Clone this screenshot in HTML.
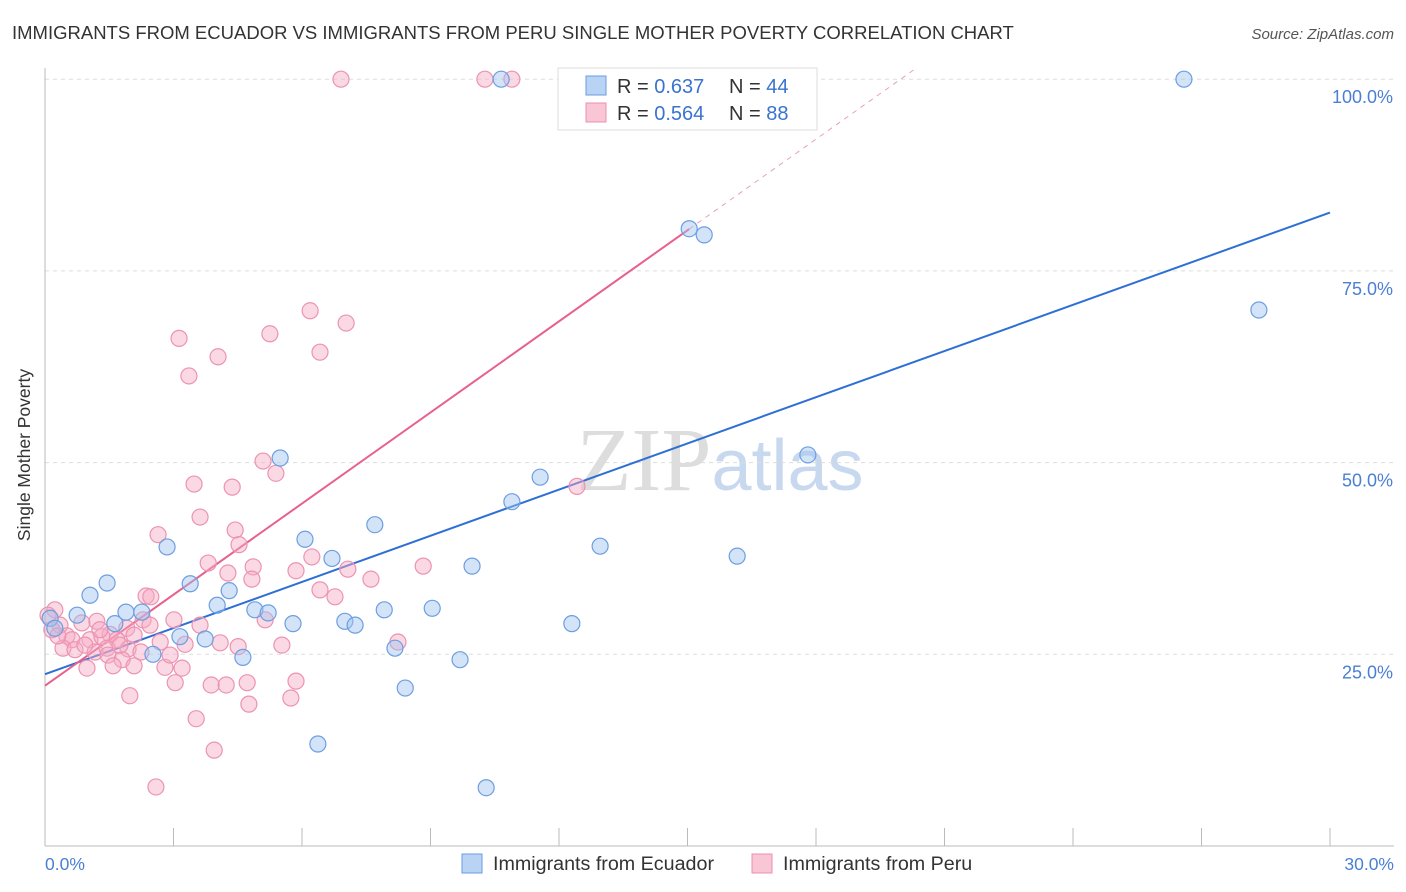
<!DOCTYPE html>
<html><head><meta charset="utf-8">
<style>
body{margin:0;background:#fff;font-family:"Liberation Sans",sans-serif;}
#wrap{position:relative;width:1406px;height:892px;overflow:hidden;}
</style></head>
<body>
<div id="wrap">
<svg id="svg" width="1406" height="892" xmlns="http://www.w3.org/2000/svg">
<text x="12" y="39" font-size="18.5" fill="#333">IMMIGRANTS FROM ECUADOR VS IMMIGRANTS FROM PERU SINGLE MOTHER POVERTY CORRELATION CHART</text>
<text x="1394" y="39" font-size="15" fill="#555" font-style="italic" text-anchor="end">Source: ZipAtlas.com</text>
<text x="720" y="490" font-size="90" fill="#ddd" text-anchor="middle" font-family="Liberation Serif,serif">ZIP<tspan fill="#c8d8ee" font-family="Liberation Sans,sans-serif" font-size="72">atlas</tspan></text>
<g id="grid"></g>
<line x1="45" y1="68" x2="45" y2="846" stroke="#bbb"/>
<line x1="45" y1="846" x2="1394" y2="846" stroke="#bbb"/>
<text x="30" y="455" font-size="17.5" fill="#333" text-anchor="middle" transform="rotate(-90 30 455)">Single Mother Poverty</text>
<text x="45" y="870" font-size="17.5" fill="#4a7fd4">0.0%</text>
<text x="1394" y="870" font-size="17.5" fill="#4a7fd4" text-anchor="end">30.0%</text>
<g id="lines"></g>
<g id="pts"></g>
<g>
<rect x="558" y="68" width="259" height="62" fill="#fff" stroke="#ddd"/>
<rect x="586" y="76" width="20" height="19" fill="#b9d3f5" stroke="#6a9be0"/>
<rect x="586" y="103" width="20" height="19" fill="#f9c6d6" stroke="#ec8fae"/>
<text x="617" y="93" font-size="20" fill="#333">R = <tspan fill="#3a73d0">0.637</tspan></text>
<text x="729" y="93" font-size="20" fill="#333">N = <tspan fill="#3a73d0">44</tspan></text>
<text x="617" y="120" font-size="20" fill="#333">R = <tspan fill="#3a73d0">0.564</tspan></text>
<text x="729" y="120" font-size="20" fill="#333">N = <tspan fill="#3a73d0">88</tspan></text>
</g>
<g>
<rect x="462" y="854" width="20" height="19" fill="#b9d3f5" stroke="#6a9be0"/>
<text x="493" y="870" font-size="19.7" fill="#333">Immigrants from Ecuador</text>
</g>
<g>
<rect x="752" y="854" width="20" height="19" fill="#f9c6d6" stroke="#ec8fae"/>
<text x="783" y="870" font-size="19.7" fill="#333">Immigrants from Peru</text>
</g>
</svg>
</div>
<script>
const yTicks=[25,50,75,100];
const yTickLabels=["25.0%","50.0%","75.0%","100.0%"];
const xTicks=[0,3,6,9,12,15,18,21,24,27,30];
const ecuadorX=[10.65,26.59,15.04,15.39,28.34,17.81,5.49,11.56,10.90,7.70,2.85,6.07,6.70,12.96,16.16,9.97,1.45,3.39,1.05,4.30,4.02,1.89,2.26,4.90,5.21,7.92,9.04,0.75,0.12,0.23,1.63,5.79,7.00,7.24,12.30,3.15,3.74,2.52,4.62,8.17,9.69,8.41,6.37,10.30];
const ecuadorY=[100,100,80.5,79.7,69.9,51.0,50.6,48.1,44.9,41.9,39.0,40.0,37.5,39.1,37.8,36.5,34.3,34.2,32.7,33.3,31.4,30.5,30.5,30.8,30.4,30.8,31.0,30.1,29.7,28.4,29.0,29.0,29.3,28.8,29.0,27.3,27.0,25.0,24.6,25.8,24.3,20.6,13.3,7.6];
const peruX=[6.91,10.27,10.90,6.19,7.03,3.13,5.25,6.42,4.04,3.36,5.09,5.39,3.48,4.37,12.42,3.62,4.44,2.64,4.53,3.81,6.23,4.86,4.27,5.86,7.07,8.83,7.61,4.83,6.77,2.36,2.47,3.01,2.29,1.21,0.23,0.07,0.35,0.86,1.52,1.91,0.51,0.63,1.05,1.33,1.68,2.08,2.69,3.27,4.09,4.51,5.53,8.24,0.42,0.70,1.17,1.45,1.94,2.24,1.47,1.80,2.08,2.80,3.20,0.98,1.59,3.04,3.88,4.23,4.72,5.86,1.98,5.74,4.76,3.53,3.95,2.59,0.16,0.30,1.28,0.93,1.75,2.45,2.92,3.62,5.14,6.42];
const peruY=[100,100,100,69.8,68.2,66.2,66.8,64.4,63.8,61.3,50.2,48.6,47.2,46.8,46.9,42.9,41.2,40.6,39.3,36.9,37.7,36.4,35.6,35.9,36.1,36.5,34.8,34.8,32.5,32.6,32.5,29.5,29.5,29.3,30.8,30.1,28.8,29.1,27.6,28.4,27.4,26.9,26.9,27.3,26.9,27.5,26.6,26.3,26.5,26.0,26.2,26.6,25.8,25.6,25.3,25.8,25.7,25.3,24.9,24.3,23.5,23.3,23.2,23.2,23.5,21.3,21.0,21.0,21.3,21.5,19.6,19.3,18.5,16.6,12.5,7.7,28.2,27.4,28.2,26.2,26.2,28.8,24.9,28.8,29.5,33.4];
const ecuadorTrend=[22.4,2.007];
const peruTrend=[20.9,3.96];
const NS="http://www.w3.org/2000/svg";
const sx=v=>45+v*(1285/30);
const sy=v=>846-v*7.668;
function mk(t,a,p){const e=document.createElementNS(NS,t);for(const k in a)e.setAttribute(k,a[k]);p.appendChild(e);return e;}
const grid=document.getElementById('grid');
yTicks.forEach((v,i)=>{
 const l=mk('line',{x1:45,x2:1394,y1:sy(v),y2:sy(v),stroke:'#ddd','stroke-dasharray':'4,4'},grid);
 
 
 const t=mk('text',{x:1393,y:sy(v)+24,'font-size':18,fill:'#4a7fd4','text-anchor':'end'},grid);
 t.textContent=yTickLabels[i];
 
 
});
xTicks.forEach(v=>{
 const l=mk('line',{x1:sx(v),x2:sx(v),y1:828,y2:846,stroke:'#bbb'},grid);
 
 
});
const pts=document.getElementById('pts');
peruX.forEach((x,i)=>{
 const c=mk('circle',{cx:sx(x),cy:sy(peruY[i]),r:8,fill:'rgba(246,170,195,0.45)',stroke:'#ec93b1','stroke-width':1.2},pts);
 
 
});
ecuadorX.forEach((x,i)=>{
 const c=mk('circle',{cx:sx(x),cy:sy(ecuadorY[i]),r:8,fill:'rgba(160,195,240,0.45)',stroke:'#6d9ee0','stroke-width':1.2},pts);
 
 
});
const lines=document.getElementById('lines');
let l=mk('line',{x1:sx(0),y1:sy(ecuadorTrend[0]),x2:sx(30),y2:sy(ecuadorTrend[0]+30*ecuadorTrend[1]),stroke:'#2e6fd6','stroke-width':2},lines);


const pEnd=15.04;
l=mk('line',{x1:sx(0),y1:sy(peruTrend[0]),x2:sx(pEnd),y2:sy(peruTrend[0]+pEnd*peruTrend[1]),stroke:'#e8608c','stroke-width':2},lines);


l=mk('line',{x1:sx(pEnd),y1:sy(peruTrend[0]+pEnd*peruTrend[1]),x2:sx(20.3),y2:sy(peruTrend[0]+20.3*peruTrend[1]),stroke:'#e8a0b8','stroke-width':1,'stroke-dasharray':'5,5'},lines);


</script>
</body></html>
